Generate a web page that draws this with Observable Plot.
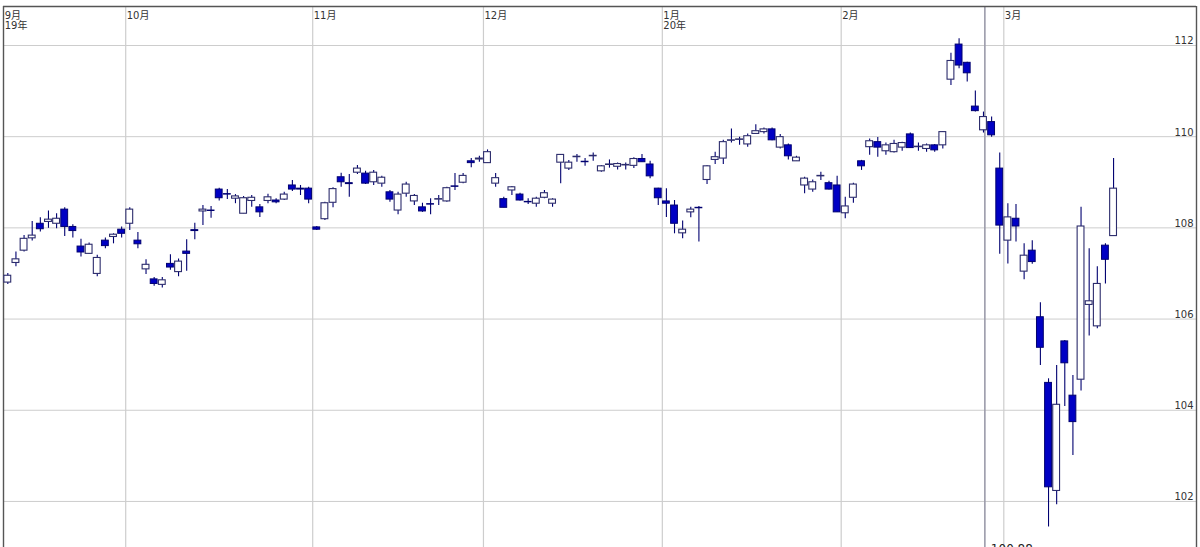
<!DOCTYPE html>
<html>
<head>
<meta charset="utf-8">
<script src="https://cdn.jsdelivr.net/npm/d3@7"></script>
<script src="https://cdn.jsdelivr.net/npm/@observablehq/plot@0.6"></script>
<style>
  html, body { margin: 0; padding: 0; background: #fff; overflow: hidden; }
  #chart svg { display: block; }
</style>
</head>
<body>
<div id="chart"></div>
<script>
// Daily candles (trading-day order), Sep 2019 – Mar 2020
const open = [
  106.80,107.23,107.50,107.77,108.09,108.13,108.09,108.40,108.02,107.59,107.43,106.99,107.72,107.80,107.96,
  108.09,107.72,107.09,106.87,106.75,107.21,107.03,107.48,107.95,108.36,108.38,108.84,108.74,108.64,108.31,108.59,108.45,108.59,108.60,108.62,108.93,108.86,108.86,
  108.01,108.19,108.55,109.11,108.98,109.21,109.19,109.00,108.97,108.78,108.38,108.75,108.58,108.45,108.52,108.62,108.58,108.91,108.99,109.46,109.50,
  109.42,108.97,108.63,108.82,108.73,108.57,108.53,108.66,108.53,109.43,109.30,109.55,109.45,109.57,109.24,109.38,109.34,109.37,109.36,109.51,109.39,108.86,
  108.58,108.49,107.88,108.34,108.44,109.05,109.49,109.52,109.91,109.93,109.83,110.06,110.10,110.16,109.76,109.81,109.46,108.93,108.84,109.13,108.98,108.93,
  108.32,108.66,109.46,109.77,109.88,109.68,109.66,109.76,110.05,109.77,109.73,109.81,109.81,111.25,112.02,111.62,110.66,110.14,110.32,109.30,
  107.72,108.20,107.04,107.50,106.04,104.60,102.23,105.51,104.32,104.67,106.31,105.84,107.61,107.82
];
const high = [
  107.00,107.47,107.83,108.14,108.22,108.37,108.31,108.44,108.07,107.75,107.67,107.40,107.78,107.87,108.02,
  108.44,107.90,107.30,106.91,106.91,107.41,107.32,107.74,108.10,108.49,108.47,108.87,108.84,108.73,108.69,108.71,108.51,108.74,108.64,108.78,109.04,108.93,108.89,
  108.03,108.56,108.88,109.20,109.17,109.37,109.24,109.26,109.13,108.82,108.78,109.00,108.73,108.54,108.64,108.71,108.89,109.19,109.19,109.52,109.57,
  109.71,109.19,108.67,108.91,108.76,108.64,108.67,108.82,108.64,109.61,109.48,109.61,109.52,109.64,109.37,109.49,109.42,109.42,109.54,109.61,109.46,108.87,
  108.86,108.60,108.15,108.45,108.47,109.36,109.66,109.92,110.17,109.99,110.06,110.26,110.19,110.19,110.05,109.84,109.57,109.11,109.05,109.22,109.02,109.13,
  108.67,108.98,109.48,109.95,109.98,109.86,109.92,109.88,110.08,109.86,109.84,109.83,110.11,111.83,112.15,111.63,111.00,110.54,110.43,109.64,
  108.53,108.51,107.65,107.72,106.36,104.69,104.98,105.53,104.76,108.45,107.54,107.15,107.65,109.52
];
const low = [
  106.76,107.15,107.47,107.71,107.91,107.99,107.98,107.81,107.78,107.36,107.42,106.93,107.54,107.65,107.78,
  107.94,107.54,106.98,106.72,106.68,107.07,106.93,107.05,107.74,108.05,108.21,108.59,108.62,108.53,108.31,108.45,108.23,108.53,108.53,108.60,108.80,108.71,108.53,
  107.94,108.16,108.44,108.89,108.67,109.17,108.95,108.93,108.89,108.56,108.29,108.67,108.49,108.34,108.29,108.49,108.56,108.82,108.97,109.32,109.44,
  109.42,108.89,108.44,108.71,108.59,108.51,108.45,108.64,108.45,108.97,109.26,109.44,109.35,109.46,109.22,109.31,109.27,109.27,109.30,109.44,109.08,108.49,
  108.23,107.87,107.76,108.22,107.69,108.95,109.39,109.39,109.86,109.81,109.77,110.06,110.06,109.91,109.73,109.49,109.46,108.75,108.78,109.04,108.83,108.34,
  108.20,108.54,109.26,109.59,109.55,109.59,109.64,109.68,109.74,109.68,109.66,109.66,109.73,111.12,111.49,111.20,110.54,110.08,109.99,107.42,
  107.21,107.69,106.86,107.20,104.98,101.44,101.93,104.08,103.01,104.42,105.63,105.79,106.77,107.82
];
const close = [
  106.95,107.31,107.76,107.83,107.97,108.18,108.20,108.02,107.93,107.46,107.63,107.34,107.60,107.85,107.87,
  108.40,107.64,107.19,106.77,106.85,107.13,107.26,107.43,107.93,108.40,108.37,108.65,108.73,108.69,108.65,108.66,108.34,108.67,108.56,108.73,108.84,108.84,108.62,
  107.96,108.54,108.85,109.00,108.96,109.30,108.97,109.21,109.10,108.62,108.73,108.95,108.70,108.36,108.51,108.63,108.87,108.90,109.14,109.42,109.52,
  109.66,109.09,108.44,108.89,108.60,108.56,108.64,108.76,108.62,109.60,109.43,109.56,109.44,109.58,109.35,109.39,109.40,109.38,109.51,109.44,109.13,108.65,
  108.53,108.09,107.96,108.40,108.43,109.35,109.55,109.88,109.92,109.94,110.01,110.12,110.16,109.92,109.99,109.57,109.54,109.08,109.00,109.14,108.84,108.34,
  108.47,108.95,109.35,109.90,109.76,109.81,109.84,109.86,109.75,109.78,109.81,109.70,110.10,111.66,111.56,111.39,110.56,110.43,110.03,108.05,
  108.23,108.03,107.39,107.25,105.37,102.31,104.12,105.03,103.74,108.03,106.39,106.77,107.30,108.86
];

// Month labels and the trading-day index where each month starts
const monthLabels = ["9月\n19年", "10月", "11月", "12月", "1月\n20年", "2月", "3月"];
const monthStartIndex = [0, 15, 38, 59, 81, 103, 123];

// Price axis ticks
const yTicks = [102, 104, 106, 108, 110, 112];

// Crosshair (cursor) position and its price label
const cursorIndex = [120.17];
const cursorLabel = ["100.88"];

const candles = open.map((o, i) => ({
  i, open: o, high: high[i], low: low[i], close: close[i], up: close[i] >= o
}));

const xDomain = [-0.53, 146.2];
const yDomain = [100.99, 112.855];

const BLUE = "#0000c4";
const NAVY = "#000070";
const GRID = "#cdcdcd";

const chart = Plot.plot({
  width: 1200,
  height: 547,
  marginLeft: 3,
  marginRight: 4,
  marginTop: 6,
  marginBottom: 0,
  x: { type: "linear", domain: xDomain, axis: null },
  y: { type: "linear", domain: yDomain, axis: null },
  style: {
    fontFamily: "'DejaVu Sans', 'Noto Sans CJK JP', sans-serif",
    fontSize: "10px",
    background: "#fff",
    color: "#333"
  },
  marks: [
    Plot.ruleY(yTicks, { stroke: GRID, strokeWidth: 1 }),
    Plot.ruleX(monthStartIndex.slice(1), { x: d => d - 0.5, stroke: GRID, strokeWidth: 1.2 }),
    Plot.ruleX(cursorIndex, { x: d => d, stroke: "#9c9cab", strokeWidth: 1.6 }),
    Plot.ruleY([yDomain[1]], { stroke: "#555", strokeWidth: 1.4 }),
    Plot.ruleX([xDomain[0]], { stroke: "#555", strokeWidth: 1.4 }),
    Plot.ruleX([xDomain[1]], { stroke: "#555", strokeWidth: 1.4 }),
    Plot.ruleX(candles, { x: "i", y1: "low", y2: "high", stroke: NAVY, strokeWidth: 1.1 }),
    Plot.rect(candles, {
      filter: d => d.up,
      x1: d => d.i - 0.42, x2: d => d.i + 0.42, y1: "open", y2: "close",
      fill: "#fff", stroke: "#2c2c6c", strokeWidth: 1.1
    }),
    Plot.rect(candles, {
      filter: d => !d.up,
      x1: d => d.i - 0.42, x2: d => d.i + 0.42, y1: "open", y2: "close",
      fill: BLUE, stroke: NAVY, strokeWidth: 1
    }),
    Plot.text(yTicks, {
      y: d => d, text: d => String(d), frameAnchor: "right",
      textAnchor: "end", lineAnchor: "bottom", dx: -3, dy: -1, fill: "#333", fontSize: 10
    }),
    Plot.text(monthLabels, {
      x: (d, i) => monthStartIndex[i] - 0.5, text: d => d, frameAnchor: "top",
      textAnchor: "start", lineAnchor: "top", dx: 1, dy: 5, lineHeight: 1.05,
      fill: "#333", fontSize: 10
    }),
    Plot.text(cursorLabel, {
      x: (d, i) => cursorIndex[i], text: d => d, frameAnchor: "bottom",
      textAnchor: "start", lineAnchor: "top", dx: 6, dy: -3, fill: "#222", fontSize: 12
    })
  ]
});

document.getElementById("chart").appendChild(chart);
</script>
</body>
</html>
